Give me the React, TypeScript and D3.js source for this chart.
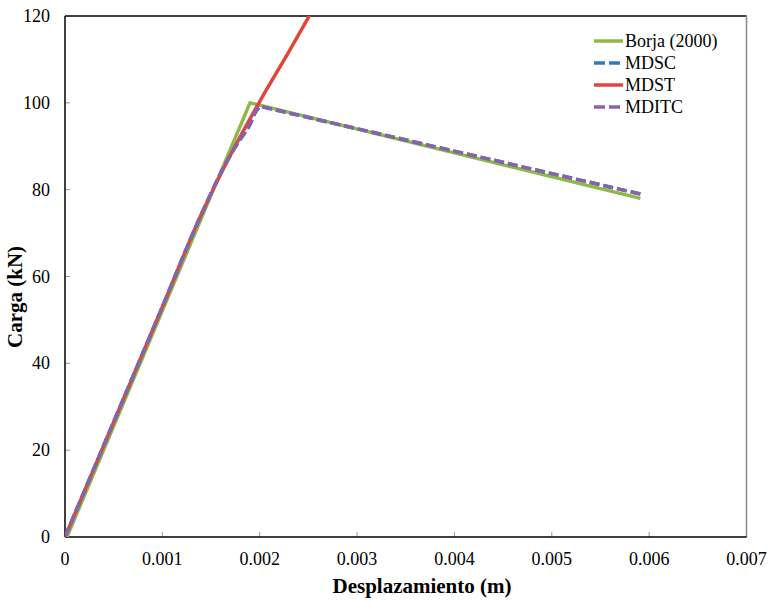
import React from "react";
import * as d3 from "d3";

const xTicks = [0, 0.001, 0.002, 0.003, 0.004, 0.005, 0.006, 0.007];
const yTicks = [0, 20, 40, 60, 80, 100, 120];

const borjaX = [0.00002, 0.0019, 0.00591];
const borjaY = [0, 100, 78];

const mdscX = [0, 0.0005, 0.001, 0.0014, 0.0017, 0.0018, 0.0019, 0.00195, 0.002, 0.00595];
const mdscY = [0, 26.5, 53, 74.3, 88, 91.6, 95, 97.6, 99.2, 78.8];

const mdstX = [0, 0.0005, 0.001, 0.0014, 0.0017, 0.002, 0.0023, 0.0026];
const mdstY = [0, 26.5, 53, 74.3, 88, 100.3, 111.8, 123.6];

const mditcX = [0, 0.0005, 0.001, 0.0014, 0.0017, 0.0018, 0.0019, 0.00195, 0.002, 0.00595];
const mditcY = [0, 26.5, 53, 74.3, 88, 91.6, 95, 97.6, 99.2, 78.8];

const seriesNames = ["Borja (2000)", "MDSC", "MDST", "MDITC"];
const seriesColors = ["#8DBA45", "#2E7CBF", "#E2453C", "#8B62AA"];
const seriesDash = [null, "10,4", null, "10,4"];

export default function App() {
  const W = 771, H = 612;
  const L = 65, R = 746.5, T = 16, B = 537;
  const x = d3.scaleLinear().domain([0, 0.007]).range([L, R]);
  const y = d3.scaleLinear().domain([0, 120]).range([B, T]);
  const mk = (xs: number[], ys: number[]) => xs.map((v, i) => [v, ys[i]] as [number, number]);
  const data = [mk(borjaX, borjaY), mk(mdscX, mdscY), mk(mdstX, mdstY), mk(mditcX, mditcY)];
  const order = [0, 2, 1, 3];
  const font = "'Liberation Serif', 'Times New Roman', Times, serif";
  const ts = { fontFamily: font };
  const straight = d3.line<[number, number]>().x(d => x(d[0])).y(d => y(d[1]));
  const smooth = d3.line<[number, number]>().x(d => x(d[0])).y(d => y(d[1])).curve(d3.curveMonotoneX);
  const pathFor = (i: number) => {
    const pts = data[i];
    if (i === 0) return straight(pts) || "";
    if (i === 2) return smooth(pts) || "";
    const rising = pts.slice(0, -1);
    const last = pts[pts.length - 1];
    return (smooth(rising) || "") + `L${x(last[0])},${y(last[1])}`;
  };
  return (
    <svg width={W} height={H} style={{ position: "absolute", left: 0, top: 0 }}>
      <defs>
        <clipPath id="plot">
          <rect x={L} y={T} width={R - L} height={B - T} />
        </clipPath>
      </defs>
      <rect width={W} height={H} fill="#fff" />
      <line x1={L} y1={T} x2={R} y2={T} stroke="#000" strokeWidth={1.5} />
      <line x1={R} y1={T} x2={R} y2={B} stroke="#888" strokeWidth={1.5} />
      {xTicks.slice(1, -1).map(t => (
        <line key={"xt" + t} x1={x(t)} x2={x(t)} y1={B} y2={B - 5} stroke="#999" strokeWidth={1} />
      ))}
      {yTicks.slice(1, -1).map(t => (
        <line key={"yt" + t} x1={L} x2={L + 5} y1={y(t)} y2={y(t)} stroke="#999" strokeWidth={1} />
      ))}
      <line x1={L} y1={T} x2={L} y2={B} stroke="#000" strokeWidth={1.5} />
      <line x1={L} y1={B} x2={R} y2={B} stroke="#000" strokeWidth={1.5} />
      {xTicks.map(t => (
        <text key={"xl" + t} x={x(t)} y={565} fontSize={18} textAnchor="middle" style={ts}>{t === 0 ? "0" : d3.format(".3f")(t)}</text>
      ))}
      {yTicks.map(t => (
        <text key={"yl" + t} x={50} y={y(t) + 6} fontSize={18} textAnchor="end" style={ts}>{t}</text>
      ))}
      <g clipPath="url(#plot)">
        {order.map(i => (
          <path key={i} d={pathFor(i)} fill="none" stroke={seriesColors[i]} strokeWidth={3.5}
            strokeDasharray={seriesDash[i] || undefined} strokeLinejoin="round" />
        ))}
      </g>
      {seriesNames.map((n, i) => (
        <g key={n} transform={`translate(594, ${41 + i * 22})`}>
          <line x1={0} x2={29} y1={0} y2={0} stroke={seriesColors[i]} strokeWidth={3.5}
            strokeDasharray={seriesDash[i] ? "11,4" : undefined} />
          <text x={31} y={6} fontSize={18} style={ts}>{n}</text>
        </g>
      ))}
      <text x={422} y={593} fontSize={21} fontWeight="bold" textAnchor="middle" style={ts}>Desplazamiento (m)</text>
      <text transform={`translate(22, ${297}) rotate(-90)`} fontSize={21} fontWeight="bold" textAnchor="middle" style={ts}>Carga (kN)</text>
    </svg>
  );
}
